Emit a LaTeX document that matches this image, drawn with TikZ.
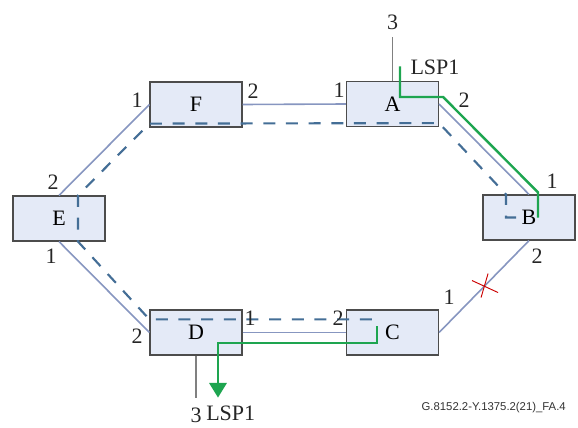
\documentclass[tikz,border=0pt]{standalone}
\usepackage{fontspec}
\setmainfont{Liberation Serif}
\newfontfamily\capfont{Liberation Sans}
\usetikzlibrary{arrows.meta,calc}
\definecolor{boxfill}{RGB}{228,234,247}
\definecolor{linkc}{RGB}{135,150,192}
\definecolor{protc}{RGB}{68,110,150}
\definecolor{lspc}{RGB}{30,165,80}
\tikzset{
	nebox/.style={draw=black!70,line width=0.9pt,fill=boxfill,minimum width=69pt,minimum height=33.75pt,inner sep=0pt,font=\fontsize{16.5}{16.5}\selectfont},
	port/.style={inner sep=0pt,text=black!85,font=\fontsize{16.5}{16.5}\selectfont},
	link/.style={draw=linkc,line width=1.2pt},
	prot/.style={draw=protc,line width=1.6pt,dash pattern=on 9pt off 8pt},
	lsp/.style={draw=lspc,line width=1.8pt},
}

\begin{document}
\begin{tikzpicture}[x=0.75pt,y=-0.75pt]
					\useasboundingbox (0,0) rectangle (578,428);
					\node[nebox] (F) at (196,104.5) {F};
					\node[nebox] (A) at (392.5,104) {A};
					\node[nebox] (E) at (59,218.5) {E};
					\node[nebox] (B) at (529,217.5) {B};
					\node[nebox] (D) at (196,332.5) {D};
					\node[nebox] (C) at (392.5,332.5) {C};
					\draw[link] (F.east)--(A.west);
					\draw[link] (A.east)--(B.north);
					\draw[link] (B.south)--(C.east);
					\draw[link] (D.east)--(C.west);
					\draw[link] (E.south)--(D.west);
					\draw[link] (E.north)--(F.west);
					\draw[gray,line width=1.1pt] (A.north)--++(0,-44) node[port,anchor=south,yshift=5pt] (a3) {3};
					\draw[gray,line width=1.1pt] (D.south)--++(0,42) node[port,anchor=north,yshift=-7pt] (d3) {3};
					\draw[prot] ($(B.center)+(-13,0)$)--($(B.center)+(-23,0)$)--($(B.north)+(-23,0)$)
						--($(A.south east)+(0,-4)$)--($(F.south west)+(0,-4)$)
						--($(E.north)+(19,0)$)--($(E.south)+(19,0)$)
						--($(D.north west)+(0,10)$)--($(C.north)+(-15.5,10)$);
					\draw[lsp] ($(A.north)+(7.5,-14.5)$)--($(A.center)+(7.5,-7)$)--($(A.east)+(4,-7)$)
						--($(B.north)+(9,-2)$)--($(B.center)+(9,0)$);
					\draw[lsp,-{Triangle[width=13pt,length=11pt]}] ($(C.center)+(-15.5,-6.5)$)--($(C.center)+(-15.5,10.5)$)
						--($(D.center)+(22,10.5)$)--($(D.south)+(22,42)$);
					\coordinate (cut) at ($(B.south)!0.5!(C.east)$);
					\draw[red!80!black,line width=0.7pt] ($(cut)+(-12,-6)$)--($(cut)+(14,6)$);
					\draw[red!80!black,line width=0.7pt] ($(cut)+(4,-13)$)--($(cut)+(-3,11)$);
					\node[port] (f1) at (137,100) {1};
					\node[port] (f2) at (253,91) {2};
					\node[port] (a1) at (339,90) {1};
					\node[port] (a2) at (464,100) {2};
					\node[port] (b1) at (552,181) {1};
					\node[port] (b2) at (537,256) {2};
					\node[port] (c1) at (449,297) {1};
					\node[port] (c2) at (338,318) {2};
					\node[port] (d1) at (250,318) {1};
					\node[port] (d2) at (137,336) {2};
					\node[port] (e1) at (51,256) {1};
					\node[port] (e2) at (53,182) {2};
					\node[port] (lspa) at (435,67) {LSP1};
					\node[port,anchor=west] (lspd) at (206,413) {LSP1};
					\node[inner sep=0pt,anchor=east,font=\capfont\fontsize{8.5}{10}\selectfont,text=black!80] (fig) at (566,408) {G.8152.2-Y.1375.2(21)\_FA.4};
				\end{tikzpicture}
\end{document}
